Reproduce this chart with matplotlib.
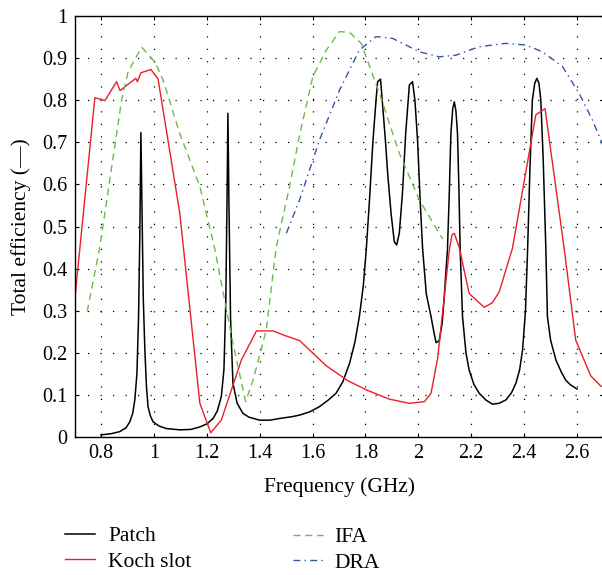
import matplotlib.pyplot as plt
from matplotlib.lines import Line2D

plt.rcParams['font.family'] = ['Liberation Serif', 'DejaVu Serif']

# Patch antenna
patch_f = [0.80, 0.84, 0.872, 0.895, 0.909, 0.92, 0.928, 0.936, 0.942, 0.947, 0.951,
           0.955, 0.96, 0.966, 0.972, 0.978, 0.987, 0.997, 1.02, 1.048, 1.098, 1.14,
           1.174, 1.20, 1.224, 1.24, 1.255, 1.265, 1.272, 1.277, 1.28, 1.284, 1.29,
           1.299, 1.315, 1.337, 1.36, 1.40, 1.44, 1.475, 1.52, 1.551, 1.59, 1.626,
           1.66, 1.689, 1.715, 1.74, 1.76, 1.777, 1.792, 1.803, 1.815, 1.828, 1.84,
           1.846, 1.857, 1.866, 1.876, 1.884, 1.897, 1.909, 1.918, 1.928, 1.94,
           1.952, 1.966, 1.978, 1.987, 1.997, 2.007, 2.016, 2.03, 2.048, 2.06, 2.067,
           2.079, 2.09, 2.098, 2.105, 2.11, 2.117, 2.123, 2.13, 2.136, 2.142, 2.148,
           2.153, 2.158, 2.167, 2.18, 2.192, 2.21, 2.23, 2.255, 2.28, 2.305, 2.331,
           2.352, 2.369, 2.383, 2.394, 2.405, 2.413, 2.422, 2.431, 2.44, 2.448,
           2.456, 2.463, 2.472, 2.482, 2.488, 2.50, 2.52, 2.54, 2.557, 2.575, 2.595, 2.60]
patch_e = [0.005, 0.008, 0.013, 0.022, 0.036, 0.056, 0.088, 0.15, 0.28, 0.48, 0.723,
           0.55, 0.33, 0.207, 0.12, 0.072, 0.05, 0.036, 0.026, 0.02, 0.017, 0.018,
           0.024, 0.031, 0.044, 0.062, 0.096, 0.16, 0.32, 0.58, 0.769, 0.55, 0.28,
           0.128, 0.08, 0.056, 0.047, 0.04, 0.04, 0.044, 0.048, 0.052, 0.06, 0.072,
           0.088, 0.104, 0.132, 0.175, 0.225, 0.286, 0.36, 0.444, 0.56, 0.7, 0.8,
           0.844, 0.85, 0.78, 0.7, 0.626, 0.53, 0.464, 0.456, 0.484, 0.58,
           0.72, 0.836, 0.844, 0.8, 0.705, 0.56, 0.448, 0.34, 0.286, 0.245, 0.224,
           0.229, 0.27, 0.333, 0.4, 0.444, 0.58, 0.721, 0.78, 0.796, 0.775, 0.721,
           0.6, 0.448, 0.286, 0.2, 0.159, 0.125, 0.104, 0.088, 0.078, 0.08, 0.088,
           0.105, 0.128, 0.16, 0.207, 0.3, 0.444, 0.64, 0.8, 0.84, 0.852,
           0.84, 0.8, 0.66, 0.448, 0.286, 0.23, 0.183, 0.155, 0.135, 0.124, 0.116, 0.114]

# Koch slot
koch_f = [0.70, 0.777, 0.815, 0.859, 0.872, 0.932, 0.938, 0.951, 0.989, 1.016, 1.098,
          1.174, 1.215, 1.255, 1.331, 1.388, 1.45, 1.50, 1.551, 1.652, 1.733, 1.803,
          1.89, 1.966, 2.023, 2.048, 2.073, 2.117, 2.127, 2.136, 2.155, 2.192, 2.249,
          2.28, 2.306, 2.356, 2.444, 2.479, 2.551, 2.595, 2.652, 2.69, 2.70]
koch_e = [0.32, 0.806, 0.799, 0.844, 0.823, 0.852, 0.844, 0.865, 0.873, 0.85, 0.532,
          0.08, 0.01, 0.04, 0.183, 0.252, 0.252, 0.24, 0.229, 0.169, 0.134, 0.112,
          0.09, 0.08, 0.084, 0.104, 0.187, 0.444, 0.48, 0.484, 0.449, 0.341, 0.308,
          0.319, 0.345, 0.449, 0.765, 0.78, 0.449, 0.23, 0.145, 0.121, 0.12]

# IFA
ifa_f = [0.748, 0.796, 0.878, 0.903, 0.954, 1.004, 1.035, 1.098, 1.174, 1.23, 1.299,
         1.347, 1.375, 1.425, 1.463, 1.513, 1.551, 1.601, 1.652, 1.702, 1.74, 1.784,
         1.853, 1.928, 2.004, 2.092]
ifa_e = [0.298, 0.452, 0.80, 0.868, 0.926, 0.891, 0.848, 0.721, 0.595, 0.448, 0.223,
         0.084, 0.135, 0.254, 0.452, 0.595, 0.717, 0.856, 0.919, 0.963, 0.961, 0.935,
         0.816, 0.674, 0.563, 0.47]

# DRA
dra_f = [1.501, 1.551, 1.626, 1.702, 1.777, 1.84, 1.902, 2.004, 2.079, 2.142, 2.23,
         2.331, 2.406, 2.469, 2.545, 2.608, 2.658, 2.70]
dra_e = [0.484, 0.563, 0.705, 0.824, 0.919, 0.951, 0.947, 0.915, 0.903, 0.907, 0.927,
         0.935, 0.931, 0.915, 0.88, 0.816, 0.753, 0.69]

xticks = [0.8, 1.0, 1.2, 1.4, 1.6, 1.8, 2.0, 2.2, 2.4, 2.6]
xlabels = ['0.8', '1', '1.2', '1.4', '1.6', '1.8', '2', '2.2', '2.4', '2.6']
yticks = [0, 0.1, 0.2, 0.3, 0.4, 0.5, 0.6, 0.7, 0.8, 0.9, 1.0]
ylabels = ['0', '0.1', '0.2', '0.3', '0.4', '0.5', '0.6', '0.7', '0.8', '0.9', '1']

fig = plt.figure(figsize=(6.02, 5.75), dpi=100)
ax = fig.add_axes([74.5 / 602, 1 - 437 / 575, 529 / 602, 421 / 575])

c_patch = 'black'
c_koch = '#e8202a'
c_ifa = '#6cba4c'
c_dra = '#3555a8'

ax.plot(patch_f, patch_e, color=c_patch, lw=1.1)
ax.plot(koch_f, koch_e, color=c_koch, lw=1.0)
ax.plot(ifa_f, ifa_e, color=c_ifa, lw=1.0, dashes=(5, 3.5))
ax.plot(dra_f, dra_e, color=c_dra, lw=1.0, dashes=(5, 3, 1, 3))

ax.set_xlim(0.7, 2.7)
ax.set_ylim(0, 1)
ax.set_xticks(xticks)
ax.set_xticklabels(xlabels)
ax.set_yticks(yticks)
ax.set_yticklabels(ylabels)
ax.tick_params(direction='in', length=3, width=0.8, top=True, right=True,
               labelsize=14.5, pad=5)
ax.grid(True, color='black', lw=0.9, linestyle=(0, (1, 9)))
for s in ax.spines.values():
    s.set_linewidth(1.0)

ax.set_xlabel('Frequency (GHz)', fontsize=15.5, labelpad=10)
ax.set_ylabel('Total efficiency (—)', fontsize=15.5, labelpad=8)

h1 = [Line2D([], [], color=c_patch, lw=1.1), Line2D([], [], color=c_koch, lw=1.0)]
h2 = [Line2D([], [], color=c_ifa, lw=1.0, dashes=(5, 3.5)),
      Line2D([], [], color=c_dra, lw=1.0, dashes=(5, 3, 1, 3))]
leg1 = fig.legend(h1, ['Patch', 'Koch slot'], loc='center left',
                  bbox_to_anchor=(61 / 602, 1 - 549 / 575), frameon=False,
                  fontsize=15.5, handlelength=1.4, handletextpad=0.6,
                  labelspacing=0.25, borderaxespad=0, borderpad=0.2)
leg2 = fig.legend(h2, ['IFA', 'DRA'], loc='center left',
                  bbox_to_anchor=(289 / 602, 1 - 550 / 575), frameon=False,
                  fontsize=15.5, handlelength=1.4, handletextpad=0.5,
                  labelspacing=0.25, borderaxespad=0, borderpad=0.2)

fig.savefig('out.png', dpi=100)
